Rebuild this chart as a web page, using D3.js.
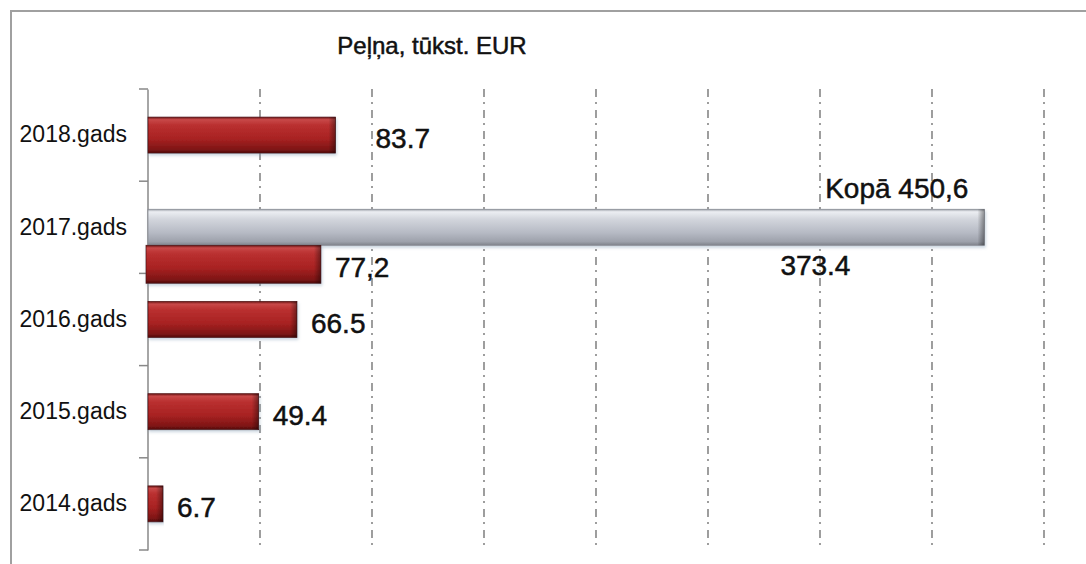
<!DOCTYPE html>
<html>
<head>
<meta charset="utf-8">
<script src="https://cdn.jsdelivr.net/npm/d3@7"></script>
<style>
  html, body { margin: 0; padding: 0; background: #fff; }
  svg { display: block; }
</style>
</head>
<body>
<svg id="chart" width="1086" height="564"></svg>
<script>
// ---- data ----
const title = "Peļņa, tūkst. EUR";
const categories = ["2018.gads", "2017.gads", "2016.gads", "2015.gads", "2014.gads"];
const profitValues = [83.7, 77.2, 66.5, 49.4, 6.7];          // red series
const profitLabels = ["83.7", "77,2", "66.5", "49.4", "6.7"];
const otherValues  = [null, 373.4, null, null, null];       // grey series
const otherLabels  = [null, "373.4", null, null, null];
const totalLabel   = "Kopā 450,6";
const gridTicks    = [50, 100, 150, 200, 250, 300, 350, 400];

// ---- layout ----
const svg = d3.select("#chart");
const W = 1086, H = 564;
const plot = { left: 148, right: 1044, top: 89, bottom: 550 };
const barH = 36;
const fontFamily = "'Liberation Sans', Arial, sans-serif";

const x = d3.scaleLinear().domain([0, 400]).range([plot.left, plot.right]);
const y = d3.scaleBand().domain(categories).range([plot.top, plot.bottom]).padding(0);

// ---- defs ----
const defs = svg.append("defs");
function vGrad(id, stops) {
  const g = defs.append("linearGradient").attr("id", id)
    .attr("x1", 0).attr("y1", 0).attr("x2", 0).attr("y2", 1);
  stops.forEach(([o, c]) => g.append("stop").attr("offset", o).attr("stop-color", c));
}
vGrad("redGrad", [[0, "#6a1414"], [0.07, "#c84848"], [0.22, "#ba3030"], [0.6, "#a82222"], [0.9, "#7e1515"], [1, "#4e0b0b"]]);
vGrad("greyGrad", [[0, "#9ea2aa"], [0.07, "#eceef2"], [0.28, "#d2d5dc"], [0.65, "#b6bac4"], [0.9, "#9da1ab"], [1, "#7e828a"]]);
const endG = defs.append("linearGradient").attr("id", "endGrad")
  .attr("x1", 0).attr("y1", 0).attr("x2", 1).attr("y2", 0);
endG.append("stop").attr("offset", 0).attr("stop-color", "#000").attr("stop-opacity", 0);
endG.append("stop").attr("offset", 1).attr("stop-color", "#000").attr("stop-opacity", 0.4);
const sh = defs.append("filter").attr("id", "shadow").attr("x", "-5%").attr("y", "-30%").attr("width", "110%").attr("height", "170%");
sh.append("feDropShadow").attr("dx", 1).attr("dy", 2).attr("stdDeviation", 1.5)
  .attr("flood-color", "#8aa0b8").attr("flood-opacity", 0.45);

// ---- frame ----
svg.append("rect").attr("x", 11).attr("y", 11).attr("width", W + 20).attr("height", H + 20)
  .attr("fill", "none").attr("stroke", "#a0a0a0").attr("stroke-width", 2);

// ---- title ----
svg.append("text").attr("x", 432).attr("y", 54).attr("text-anchor", "middle")
  .attr("font-family", fontFamily).attr("font-size", 24).attr("fill", "#111")
  .attr("stroke", "#111").attr("stroke-width", 0.5)
  .text(title);

// ---- gridlines ----
svg.append("g").selectAll("line").data(gridTicks).join("line")
  .attr("x1", d => x(d)).attr("x2", d => x(d))
  .attr("y1", plot.top).attr("y2", plot.bottom)
  .attr("stroke", "#5e5e5e").attr("stroke-width", 1.2)
  .attr("stroke-dasharray", "8,5,2,6");

// ---- y axis ----
const yAxis = d3.axisLeft(y).tickSize(0).tickPadding(20);
const gAxis = svg.append("g").attr("transform", `translate(${plot.left - 0.5},0)`).call(yAxis);
gAxis.select(".domain").attr("stroke", "#888").attr("stroke-width", 1.5);
gAxis.selectAll(".tick text").attr("font-family", fontFamily).attr("font-size", 23)
  .attr("fill", "#111").attr("x", -(plot.left - 0.5 - 127));
// band boundary ticks
const bounds = categories.map(c => y(c)).concat([plot.bottom]);
svg.append("g").selectAll("line").data(bounds).join("line")
  .attr("x1", plot.left - 9).attr("x2", plot.left).attr("y1", d => d).attr("y2", d => d)
  .attr("stroke", "#888").attr("stroke-width", 1.5);

// ---- bars ----
function rowTop(i) {
  const c = y(categories[i]) + y.bandwidth() / 2;
  return c - barH / 2;
}
function drawBar(g, x0, x1, yTop, h, grad) {
  const w = Math.max(0, x1 - x0);
  g.append("rect").attr("x", x0).attr("y", yTop).attr("width", w).attr("height", h)
    .attr("fill", `url(#${grad})`).attr("stroke", grad === "redGrad" ? "#561010" : "#8a8e96")
    .attr("stroke-width", 0.8).attr("filter", "url(#shadow)");
  const ew = Math.min(7, w);
  g.append("rect").attr("x", x0 + w - ew).attr("y", yTop).attr("width", ew).attr("height", h)
    .attr("fill", "url(#endGrad)");
}
const gBars = svg.append("g");
const gLabels = svg.append("g").attr("font-family", fontFamily).attr("font-size", 28)
  .attr("fill", "#111").attr("stroke", "#111").attr("stroke-width", 0.5);
const labelGap = 14;
const labelNudge = { "2018.gads": 26 };

categories.forEach((cat, i) => {
  const top = rowTop(i);
  let redTop = top;
  if (otherValues[i] != null) {
    // grey bar on top, red bar below it
    drawBar(gBars, x(0), x(otherValues[i]), top, barH, "greyGrad");
    redTop = top + barH;
    gLabels.append("text").attr("x", x(otherValues[i]) - 169).attr("y", top + barH + 30)
      .attr("text-anchor", "middle").text(otherLabels[i]);
    gLabels.append("text").attr("x", x(otherValues[i]) - 16).attr("y", top - 11)
      .attr("text-anchor", "end").text(totalLabel);
  }
  const rh = otherValues[i] != null ? barH + 2 : barH;
  drawBar(gBars, x(0) - (otherValues[i] != null ? 2 : 0), x(profitValues[i]), redTop, rh, "redGrad");
  gLabels.append("text")
    .attr("x", x(profitValues[i]) + labelGap + (labelNudge[cat] || 0))
    .attr("y", redTop + rh / 2 + 13)
    .text(profitLabels[i]);
});
</script>
</body>
</html>
